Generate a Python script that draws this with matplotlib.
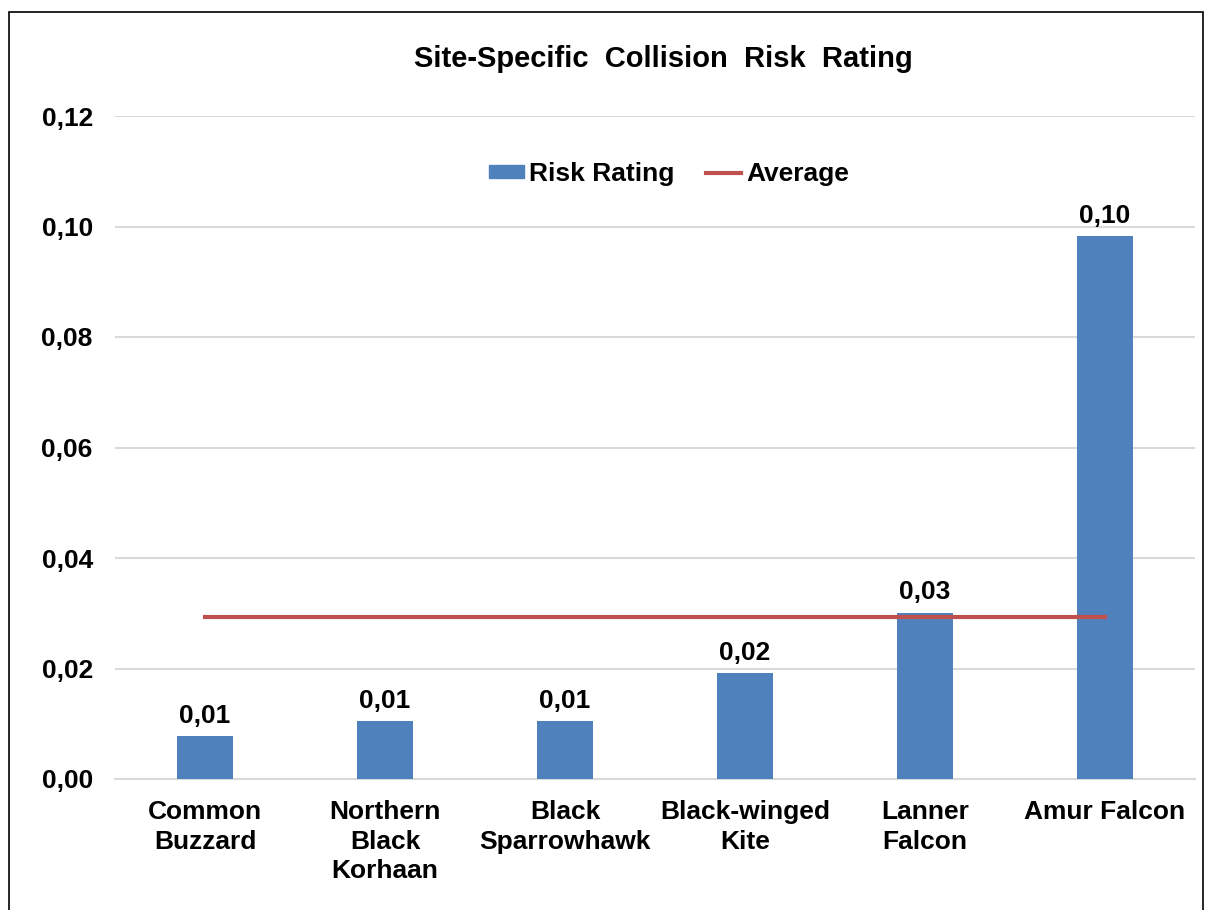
import matplotlib.pyplot as plt
import matplotlib.patches as patches
from matplotlib.lines import Line2D
from matplotlib.ticker import FuncFormatter

# --- data ---
species = ["Common\nBuzzard", "Northern\nBlack\nKorhaan", "Black\nSparrowhawk",
           "Black-winged\nKite", "Lanner\nFalcon", "Amur Falcon"]
risk = [0.0078, 0.0105, 0.0105, 0.0192, 0.0301, 0.0983]
average = [0.0294] * len(species)
yticks = [0.00, 0.02, 0.04, 0.06, 0.08, 0.10, 0.12]

plt.rcParams['font.family'] = ['Liberation Sans', 'DejaVu Sans']
FS = 19

fig = plt.figure(figsize=(12.05, 9.10), dpi=100)
ax = fig.add_axes([115 / 1205, 1 - 779 / 910, 1080 / 1205, 663 / 910])

x = list(range(len(species)))
ax.bar(x, risk, width=0.31, color="#4f81bd", zorder=3, label="Risk Rating")
ax.plot(x, average, color="#c0504d", lw=3, zorder=4, label="Average")

for xi, v in zip(x, risk):
    ax.text(xi, v + 0.0015, f"{v:.2f}".replace(".", ","), ha="center", va="bottom",
            fontsize=FS, fontweight="bold")

ax.set_xlim(-0.5, len(species) - 0.5)
ax.set_ylim(0, 0.12)
ax.set_yticks(yticks)
ax.yaxis.set_major_formatter(FuncFormatter(lambda v, p: f"{v:.2f}".replace(".", ",")))
ax.set_xticks(x)
ax.set_xticklabels(species, fontsize=FS, fontweight="bold", linespacing=1.3)
for lab in ax.get_yticklabels():
    lab.set_fontsize(FS)
    lab.set_fontweight("bold")
ax.tick_params(axis="both", length=0)
ax.tick_params(axis="x", pad=15)
ax.tick_params(axis="y", pad=16)
ax.grid(axis="y", color="#d9d9d9", lw=1.5, zorder=0)
for s in ["top", "right", "left"]:
    ax.spines[s].set_visible(False)
ax.spines["bottom"].set_color("#d9d9d9")
ax.spines["bottom"].set_linewidth(1.5)

handles = [patches.Patch(color="#4f81bd"), Line2D([0], [0], color="#c0504d", lw=3)]
ax.legend(handles, ["Risk Rating", "Average"], loc="center", bbox_to_anchor=(0.513, 0.913),
          ncol=2, frameon=False, prop={"size": FS, "weight": "bold"},
          handlelength=1.33, handleheight=0.4, columnspacing=1.2, handletextpad=0.2)

fig.text(663 / 1205, 1 - 59 / 910, "Site-Specific  Collision  Risk  Rating", ha="center",
         va="center", fontsize=21, fontweight="bold")

# outer chart frame
fig.patches.append(patches.Rectangle((9 / 1205, -0.01), 1194 / 1205, 1 - 12 / 910 + 0.01,
                                     transform=fig.transFigure, fill=False,
                                     edgecolor="black", lw=1.2))

fig.savefig("out.png", dpi=100)
